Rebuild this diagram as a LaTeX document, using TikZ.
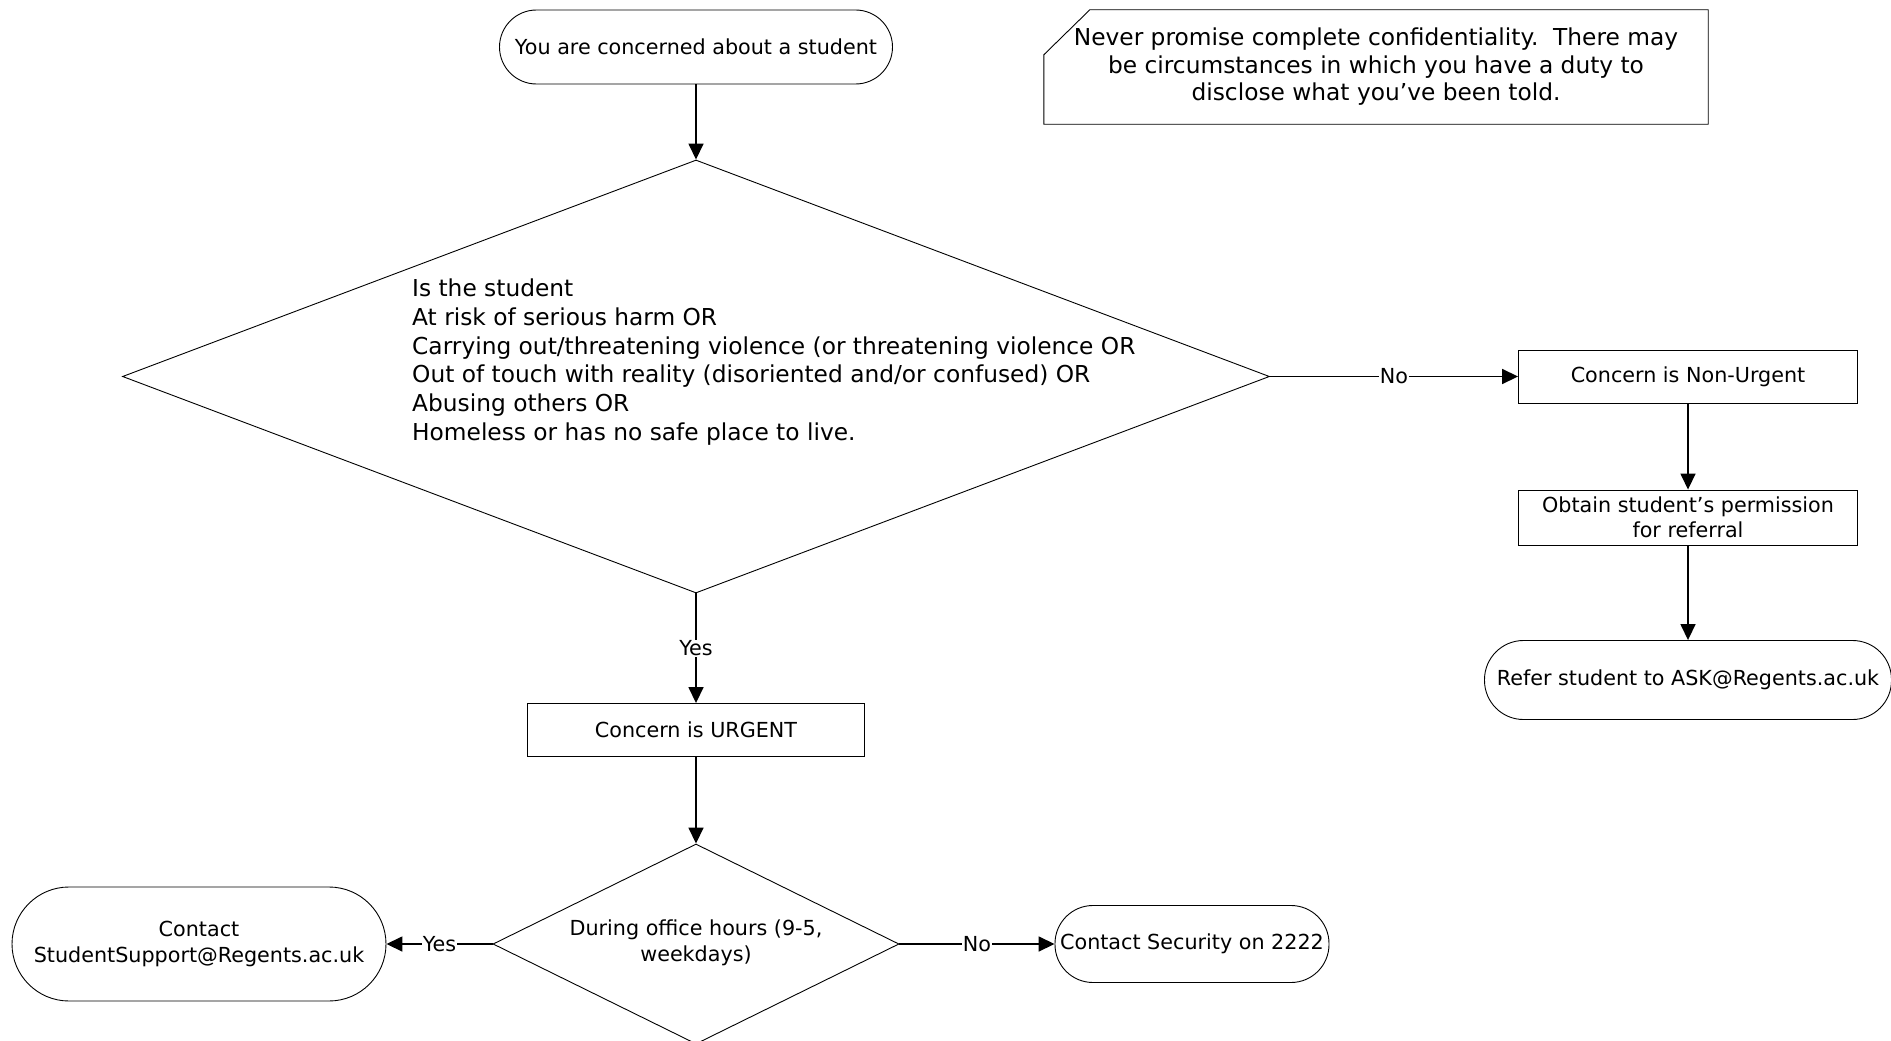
\documentclass[tikz,border=0pt]{standalone}
\usepackage{fontspec}
\setmainfont{DejaVu Sans}
\usetikzlibrary{shapes.geometric,arrows.meta}
\begin{document}
\begin{tikzpicture}[x=1pt,y=-1pt,
  every node/.style={font=\fontsize{20.7}{25.5}\selectfont},
  bigtext/.style={font=\fontsize{23.3}{28.8}\selectfont},
  box/.style={draw,line width=0.9pt,rectangle,inner sep=0pt,align=center},
  term/.style={draw,line width=0.9pt,rectangle,rounded corners=#1,inner sep=0pt,align=center},
  dia/.style={draw,line width=0.9pt,diamond,inner sep=0pt},
  conn/.style={line width=1.6pt,-{Triangle[length=16pt,width=15pt]}},
  lbl/.style={fill=white,inner sep=1pt}]
\useasboundingbox (0,0) rectangle (1891,1041);
\fill[white] (0,0) rectangle (1891,1041);
% nodes
\node[term=37pt,minimum width=393pt,minimum height=74pt] (start) at (696,47) {You are concerned about a student};
\node[dia,minimum width=1147pt,minimum height=433pt] (d1) at (696,376.5) {};
\node[bigtext,anchor=west,align=left,inner sep=0pt] (d1t) at (412,362) {Is the student\\At risk of serious harm OR\\Carrying out/threatening violence (or threatening violence OR\\Out of touch with reality (disoriented and/or confused) OR\\Abusing others OR\\Homeless or has no safe place to live.};
\node[box,minimum width=339pt,minimum height=53pt] (nonurg) at (1688,376.5) {Concern is Non-Urgent};
\node[box,minimum width=339pt,minimum height=55pt] (obtain) at (1688,517.5) {Obtain student's permission\\for referral};
\node[term=39pt,minimum width=407pt,minimum height=79pt] (refer) at (1688,680) {Refer student to ASK@Regents.ac.uk};
\node[box,minimum width=337pt,minimum height=53pt] (urgent) at (696,730) {Concern is URGENT};
\node[dia,minimum width=406pt,minimum height=200pt] (d2) at (696,944) {};
\node[align=center,inner sep=0pt] (d2t) at (696,943) {During office hours (9-5,\\weekdays)};
\node[term=57pt,minimum width=374pt,minimum height=114pt] (contact) at (199,944) {Contact\\StudentSupport@Regents.ac.uk};
\node[term=38pt,minimum width=274pt,minimum height=77pt] (security) at (1192,944) {Contact Security on 2222};
% note
\node[inner sep=0pt,minimum width=664pt,minimum height=114pt,align=center,font=\fontsize{23.3}{27.5}\selectfont] (note) at (1376,67) {Never promise complete confidentiality.\ \ There may\\be circumstances in which you have a duty to\\disclose what you've been told.};
\draw[line width=0.9pt] ([xshift=46pt]note.north west) -- (note.north east) -- (note.south east) -- (note.south west) -- ([yshift=-45pt]note.north west) -- cycle;
% connectors
\draw[conn] (start.south) -- (d1.north);
\draw[conn] (d1.east) -- node[lbl]{No} (nonurg.west);
\draw[conn] (nonurg.south) -- (obtain.north);
\draw[conn] (obtain.south) -- (refer.north);
\draw[conn] (d1.south) -- node[lbl]{Yes} (urgent.north);
\draw[conn] (urgent.south) -- (d2.north);
\draw[conn] (d2.west) -- node[lbl]{Yes} (contact.east);
\draw[conn] (d2.east) -- node[lbl]{No} (security.west);
\end{tikzpicture}
\end{document}
